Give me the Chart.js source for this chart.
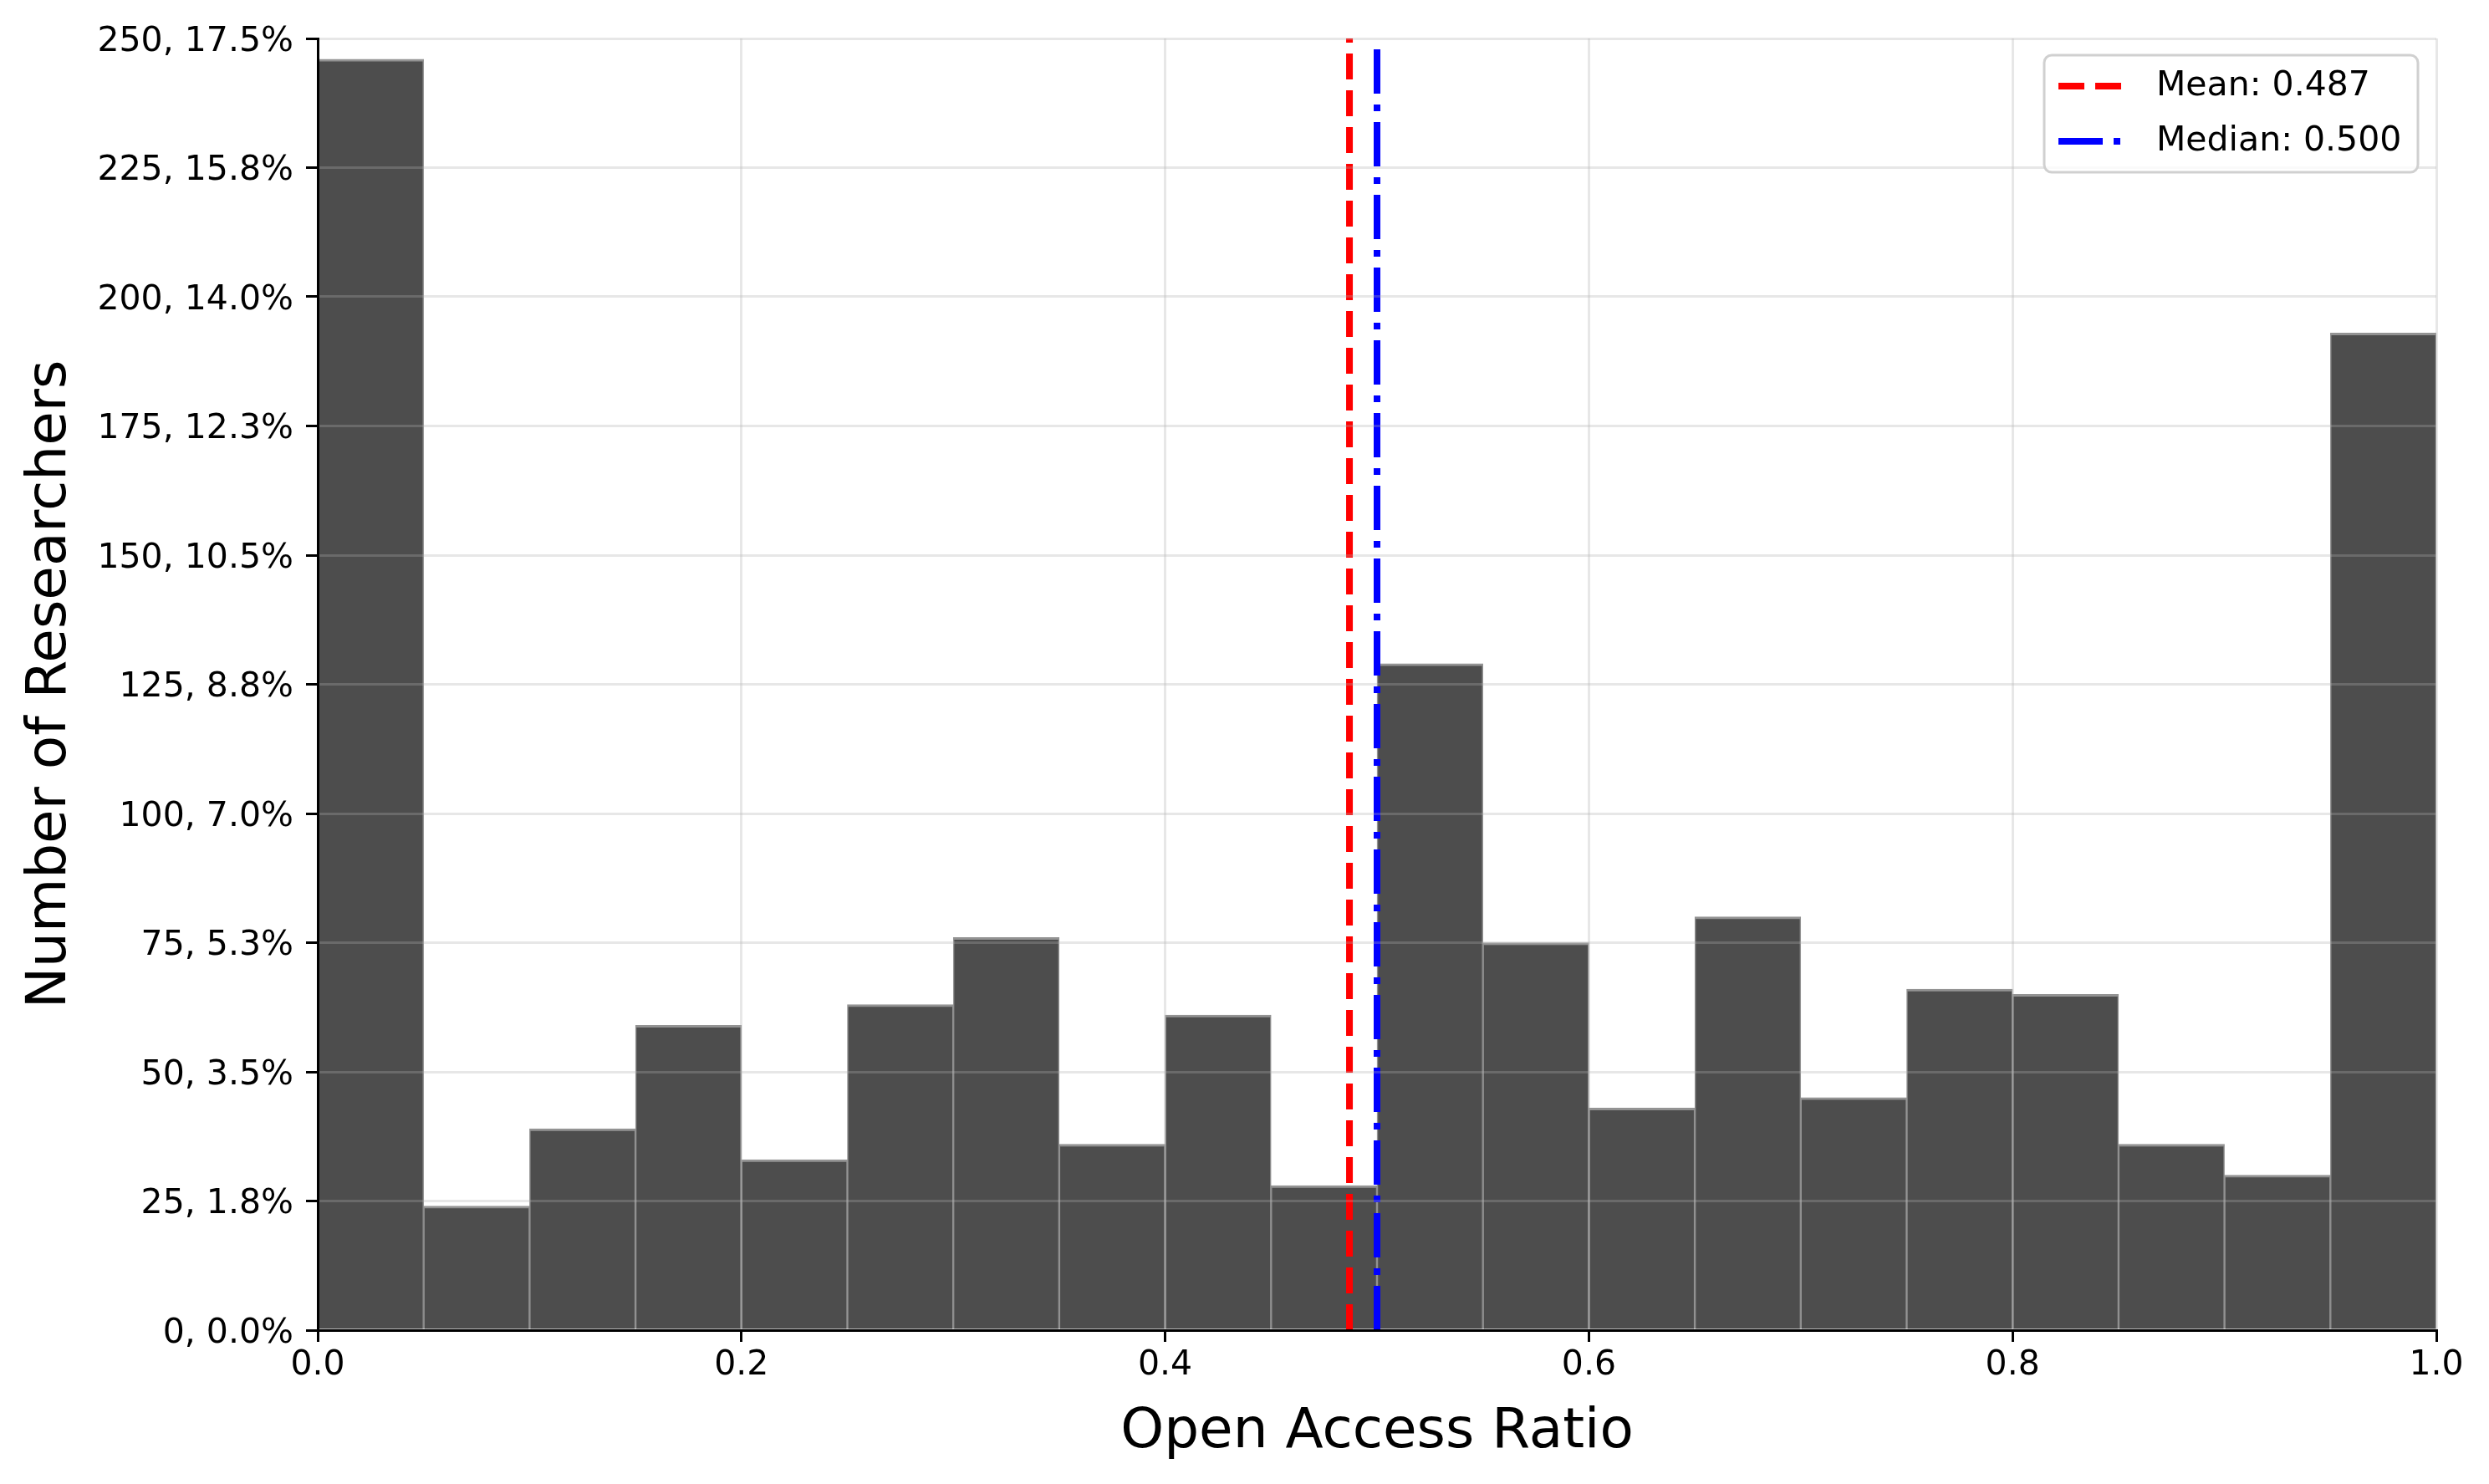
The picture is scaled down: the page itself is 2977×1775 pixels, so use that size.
<!DOCTYPE html>
<html>
<head>
<meta charset="utf-8">
<title>Open Access Ratio histogram</title>
<script src="https://cdn.jsdelivr.net/npm/chart.js@4.4.1/dist/chart.umd.min.js"></script>
<style>
    html, body { margin: 0; padding: 0; background: #ffffff; }
    #wrap { width: 2977px; height: 1775px; }
</style>
</head>
<body>
<div id="wrap"><canvas id="histChart" width="2977" height="1775"></canvas></div>
<script>
// Histogram data (20 bins of width 0.05)
const binEdges = [0.00, 0.05, 0.10, 0.15, 0.20, 0.25, 0.30, 0.35, 0.40, 0.45, 0.50,
                  0.55, 0.60, 0.65, 0.70, 0.75, 0.80, 0.85, 0.90, 0.95, 1.00];
const counts = [246, 24, 39, 59, 33, 63, 76, 36, 61, 28,
                129, 75, 43, 80, 45, 66, 65, 36, 30, 193];

// Reference lines
const refNames = ['Mean', 'Median'];
const refValues = [0.487, 0.500];
const refColors = ['#ff0000', '#0000ff'];

// Axis ticks
const xTickValues = [0, 0.2, 0.4, 0.6, 0.8, 1.0];
const xTickLabels = ['0.0', '0.2', '0.4', '0.6', '0.8', '1.0'];
const yTickValues = [0, 25, 50, 75, 100, 125, 150, 175, 200, 225, 250];
const yTickLabels = ['0, 0.0%', '25, 1.8%', '50, 3.5%', '75, 5.3%', '100, 7.0%', '125, 8.8%',
                     '150, 10.5%', '175, 12.3%', '200, 14.0%', '225, 15.8%', '250, 17.5%'];

const FONT = 'DejaVu Sans';
Chart.defaults.font.family = FONT;
Chart.defaults.color = '#000000';

const barData = counts.map((c, i) => ({ x: (binEdges[i] + binEdges[i + 1]) / 2, y: c }));
const yMax = yTickValues[yTickValues.length - 1];

// legend drawn inside the plot, top right (matplotlib style)
const insideLegend = {
    id: 'insideLegend',
    afterDraw(chart) {
        const ctx = chart.ctx;
        const box = { left: 2445, top: 66, right: 2892, bottom: 206 };
        const r = 9;
        ctx.save();
        ctx.beginPath();
        ctx.roundRect(box.left, box.top, box.right - box.left, box.bottom - box.top, r);
        ctx.fillStyle = 'rgba(255,255,255,0.8)';
        ctx.fill();
        ctx.lineWidth = 3;
        ctx.strokeStyle = '#d0d0d0';
        ctx.stroke();

        const lines = chart.data.datasets.filter(d => d.type === 'line');
        lines.forEach((ds, i) => {
            const y = box.top + 37 + i * 66;
            ctx.beginPath();
            ctx.setLineDash(ds.borderDash);
            ctx.lineCap = 'butt';
            ctx.lineWidth = ds.borderWidth;
            ctx.strokeStyle = ds.borderColor;
            ctx.moveTo(box.left + 17, y);
            ctx.lineTo(box.left + 92, y);
            ctx.stroke();
            ctx.setLineDash([]);
            ctx.fillStyle = '#000000';
            ctx.font = '41px "' + FONT + '"';
            ctx.textAlign = 'left';
            ctx.textBaseline = 'middle';
            ctx.fillText(ds.label, box.left + 134, y);
        });
        ctx.restore();
    }
};

const ctx = document.getElementById('histChart').getContext('2d');
new Chart(ctx, {
    type: 'bar',
    data: {
        datasets: [
            {
                type: 'line',
                label: refNames[0] + ': ' + refValues[0].toFixed(3),
                data: [{ x: refValues[0], y: 0 }, { x: refValues[0], y: yMax }],
                borderColor: refColors[0],
                borderWidth: 8,
                borderDash: [31, 13],
                borderCapStyle: 'butt',
                pointRadius: 0,
                fill: false,
                order: 1
            },
            {
                type: 'line',
                label: refNames[1] + ': ' + refValues[1].toFixed(3),
                data: [{ x: refValues[1], y: 0 }, { x: refValues[1], y: yMax }],
                borderColor: refColors[1],
                borderWidth: 8,
                borderDash: [53, 13, 8, 13],
                borderCapStyle: 'butt',
                pointRadius: 0,
                fill: false,
                order: 0
            },
            {
                type: 'bar',
                label: 'Researchers',
                data: barData,
                backgroundColor: '#4d4d4d',
                borderColor: 'rgba(128,128,128,0.85)',
                borderWidth: { top: 3, left: 1.5, right: 1.5, bottom: 0 },
                borderSkipped: false,
                barPercentage: 1,
                categoryPercentage: 1,
                grouped: false,
                order: 2
            }
        ]
    },
    options: {
        responsive: false,
        devicePixelRatio: 1,
        animation: false,
        layout: { padding: { left: 0, right: 63, top: 46, bottom: 0 } },
        plugins: {
            legend: { display: false },
            tooltip: { enabled: false }
        },
        scales: {
            x: {
                type: 'linear',
                min: 0,
                max: 1,
                offset: false,
                afterBuildTicks: axis => { axis.ticks = xTickValues.map(v => ({ value: v })); },
                afterFit: axis => { axis.height = 184; },
                ticks: {
                    callback: (v, i) => xTickLabels[i],
                    font: { size: 41 },
                    padding: 4,
                    maxRotation: 0,
                    color: '#000000'
                },
                grid: {
                    color: 'rgba(176,176,176,0.3)',
                    lineWidth: 3,
                    tickColor: '#000000',
                    tickWidth: 3,
                    tickLength: 14,
                    offset: false,
                    z: 1
                },
                border: { display: true, color: '#000000', width: 3, z: 2 },
                title: {
                    display: true,
                    text: 'Open Access Ratio',
                    font: { size: 66, lineHeight: 1 },
                    padding: { top: 0, bottom: 28 },
                    color: '#000000'
                }
            },
            y: {
                type: 'linear',
                min: 0,
                max: yMax,
                afterBuildTicks: axis => { axis.ticks = yTickValues.map(v => ({ value: v })); },
                afterFit: axis => { axis.width = 380; },
                ticks: {
                    callback: (v, i) => yTickLabels[i],
                    font: { size: 41 },
                    padding: 15,
                    labelOffset: 4,
                    color: '#000000'
                },
                grid: {
                    color: 'rgba(176,176,176,0.3)',
                    lineWidth: 3,
                    tickColor: '#000000',
                    tickWidth: 3,
                    tickLength: 14,
                    z: 1
                },
                border: { display: true, color: '#000000', width: 3, z: 2 },
                title: {
                    display: true,
                    text: 'Number of Researchers',
                    font: { size: 66, lineHeight: 1 },
                    padding: { top: 28, bottom: 0 },
                    color: '#000000'
                }
            }
        }
    },
    plugins: [insideLegend]
});
</script>
</body>
</html>
